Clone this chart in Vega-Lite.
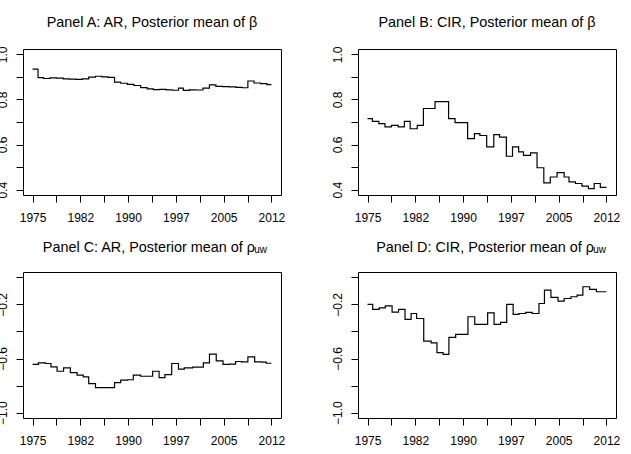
{
  "$schema": "https://vega.github.io/schema/vega-lite/v6.json",
  "background": "white",
  "padding": {"left": -5, "top": 14, "right": 0, "bottom": 0},
  "columns": 2,
  "spacing": {"row": 77, "column": 77},
  "bounds": "flush",
  "config": {
    "font": "Liberation Sans",
    "view": {"stroke": "black", "strokeWidth": 1},
    "axis": {"grid": false, "domain": false, "tickColor": "black", "tickSize": 7, "tickWidth": 1, "labelColor": "black", "labelFontSize": 12, "labelFont": "Liberation Sans", "title": null, "labelOverlap": false, "labelFlush": false},
    "title": {"font": "Liberation Sans", "fontSize": 14.4, "fontWeight": "normal", "color": "black", "baseline": "alphabetic", "frame": "group", "offset": 16, "subtitleFont": "Liberation Sans", "subtitleFontSize": 10, "subtitleColor": "black"}
  },
  "datasets": {
    "A": [
      {"year": 1975.0, "value": 0.935}, {"year": 1975.85, "value": 0.897}, {"year": 1976.7, "value": 0.893}, {"year": 1977.7, "value": 0.896},
      {"year": 1978.7, "value": 0.895}, {"year": 1979.75, "value": 0.891}, {"year": 1980.7, "value": 0.890}, {"year": 1981.7, "value": 0.889},
      {"year": 1982.7, "value": 0.891}, {"year": 1983.7, "value": 0.899}, {"year": 1984.75, "value": 0.903}, {"year": 1985.75, "value": 0.900},
      {"year": 1986.7, "value": 0.898}, {"year": 1987.7, "value": 0.877}, {"year": 1988.65, "value": 0.872}, {"year": 1989.7, "value": 0.867},
      {"year": 1990.7, "value": 0.862}, {"year": 1991.75, "value": 0.853}, {"year": 1992.75, "value": 0.847}, {"year": 1993.7, "value": 0.844},
      {"year": 1994.7, "value": 0.845}, {"year": 1995.7, "value": 0.843}, {"year": 1996.7, "value": 0.841}, {"year": 1997.6, "value": 0.850},
      {"year": 1998.35, "value": 0.840}, {"year": 1999.3, "value": 0.843}, {"year": 2000.3, "value": 0.842}, {"year": 2001.4, "value": 0.850},
      {"year": 2002.4, "value": 0.865}, {"year": 2003.4, "value": 0.858}, {"year": 2004.4, "value": 0.857}, {"year": 2005.45, "value": 0.856},
      {"year": 2006.5, "value": 0.854}, {"year": 2007.5, "value": 0.852}, {"year": 2008.35, "value": 0.882}, {"year": 2009.3, "value": 0.873},
      {"year": 2010.3, "value": 0.870}, {"year": 2011.3, "value": 0.866}, {"year": 2012.0, "value": 0.866}
    ],
    "B": [
      {"year": 1975.0, "value": 0.715}, {"year": 1975.75, "value": 0.703}, {"year": 1976.75, "value": 0.693}, {"year": 1977.7, "value": 0.678},
      {"year": 1978.7, "value": 0.685}, {"year": 1979.75, "value": 0.678}, {"year": 1980.7, "value": 0.703}, {"year": 1981.6, "value": 0.670},
      {"year": 1982.7, "value": 0.685}, {"year": 1983.65, "value": 0.760}, {"year": 1985.45, "value": 0.790}, {"year": 1987.55, "value": 0.715},
      {"year": 1988.55, "value": 0.697}, {"year": 1990.5, "value": 0.626}, {"year": 1991.55, "value": 0.648}, {"year": 1992.4, "value": 0.640},
      {"year": 1993.45, "value": 0.590}, {"year": 1994.55, "value": 0.644}, {"year": 1995.45, "value": 0.633}, {"year": 1996.5, "value": 0.548},
      {"year": 1997.45, "value": 0.590}, {"year": 1998.4, "value": 0.567}, {"year": 1999.15, "value": 0.552}, {"year": 2000.25, "value": 0.563},
      {"year": 2001.25, "value": 0.497}, {"year": 2002.3, "value": 0.430}, {"year": 2003.3, "value": 0.456}, {"year": 2004.35, "value": 0.475},
      {"year": 2005.45, "value": 0.456}, {"year": 2006.2, "value": 0.434}, {"year": 2007.2, "value": 0.427}, {"year": 2008.2, "value": 0.415},
      {"year": 2009.2, "value": 0.404}, {"year": 2010.1, "value": 0.427}, {"year": 2011.05, "value": 0.410}, {"year": 2012.0, "value": 0.410}
    ],
    "C": [
      {"year": 1975.0, "value": -0.644}, {"year": 1975.9, "value": -0.632}, {"year": 1977.0, "value": -0.637}, {"year": 1977.85, "value": -0.662},
      {"year": 1978.8, "value": -0.694}, {"year": 1979.8, "value": -0.669}, {"year": 1980.85, "value": -0.704}, {"year": 1981.9, "value": -0.723},
      {"year": 1982.85, "value": -0.736}, {"year": 1983.7, "value": -0.785}, {"year": 1984.75, "value": -0.815}, {"year": 1987.7, "value": -0.778},
      {"year": 1988.65, "value": -0.760}, {"year": 1989.7, "value": -0.757}, {"year": 1990.6, "value": -0.723}, {"year": 1991.75, "value": -0.731},
      {"year": 1993.6, "value": -0.694}, {"year": 1994.6, "value": -0.741}, {"year": 1995.5, "value": -0.719}, {"year": 1996.55, "value": -0.637},
      {"year": 1997.6, "value": -0.679}, {"year": 1998.5, "value": -0.669}, {"year": 1999.8, "value": -0.664}, {"year": 2001.45, "value": -0.632},
      {"year": 2002.4, "value": -0.568}, {"year": 2003.45, "value": -0.617}, {"year": 2004.5, "value": -0.644}, {"year": 2005.5, "value": -0.642},
      {"year": 2006.45, "value": -0.622}, {"year": 2007.35, "value": -0.625}, {"year": 2008.35, "value": -0.588}, {"year": 2009.4, "value": -0.625},
      {"year": 2010.45, "value": -0.627}, {"year": 2011.2, "value": -0.635}, {"year": 2012.0, "value": -0.635}
    ],
    "D": [
      {"year": 1975.0, "value": -0.200}, {"year": 1975.8, "value": -0.237}, {"year": 1976.8, "value": -0.225}, {"year": 1977.75, "value": -0.210},
      {"year": 1978.8, "value": -0.257}, {"year": 1979.8, "value": -0.237}, {"year": 1980.8, "value": -0.311}, {"year": 1981.75, "value": -0.267},
      {"year": 1982.6, "value": -0.304}, {"year": 1983.7, "value": -0.472}, {"year": 1984.85, "value": -0.484}, {"year": 1985.75, "value": -0.556},
      {"year": 1986.7, "value": -0.570}, {"year": 1987.6, "value": -0.444}, {"year": 1988.65, "value": -0.422}, {"year": 1990.55, "value": -0.291},
      {"year": 1991.6, "value": -0.348}, {"year": 1993.6, "value": -0.262}, {"year": 1994.6, "value": -0.348}, {"year": 1995.6, "value": -0.333},
      {"year": 1996.55, "value": -0.200}, {"year": 1997.55, "value": -0.274}, {"year": 1998.45, "value": -0.267}, {"year": 1999.5, "value": -0.259},
      {"year": 2000.5, "value": -0.267}, {"year": 2001.55, "value": -0.193}, {"year": 2002.4, "value": -0.094}, {"year": 2003.4, "value": -0.148},
      {"year": 2004.5, "value": -0.175}, {"year": 2005.45, "value": -0.156}, {"year": 2006.5, "value": -0.143}, {"year": 2007.45, "value": -0.131},
      {"year": 2008.35, "value": -0.069}, {"year": 2009.4, "value": -0.089}, {"year": 2010.45, "value": -0.106}, {"year": 2012.0, "value": -0.106}
    ]
  },
  "concat": [
    {
      "width": 258, "height": 146,
      "title": {"text": "Panel A: AR, Posterior mean of β", "anchor": "middle"},
      "data": {"name": "A"},
      "mark": {"type": "line", "interpolate": "step-after", "color": "black", "strokeWidth": 1.2},
      "encoding": {
        "x": {"field": "year", "type": "quantitative", "scale": {"domain": [1973.52, 2013.48], "nice": false, "zero": false},
              "axis": {"values": [1975, 1978.7, 1982.4, 1986.1, 1989.8, 1993.5, 1997.2, 2000.9, 2004.6, 2008.3, 2012], "labelExpr": "round((datum.value - 1975) / 3.7) % 2 == 0 ? toString(round(datum.value)) : ''", "labelPadding": 10.5}},
        "y": {"field": "value", "type": "quantitative", "scale": {"domain": [0.376, 1.024], "nice": false, "zero": false},
              "axis": {"values": [0.4, 0.5, 0.6, 0.7, 0.8, 0.9, 1.0], "labelExpr": "round(datum.value * 10) % 2 == 0 ? format(datum.value, '.1f') : ''", "labelAngle": -90, "labelAlign": "center", "labelBaseline": "alphabetic", "labelPadding": 9.7}}
      }
    },
    {
      "width": 258, "height": 146,
      "title": {"text": "Panel B: CIR, Posterior mean of β", "anchor": "middle"},
      "data": {"name": "B"},
      "mark": {"type": "line", "interpolate": "step-after", "color": "black", "strokeWidth": 1.2},
      "encoding": {
        "x": {"field": "year", "type": "quantitative", "scale": {"domain": [1973.52, 2013.48], "nice": false, "zero": false},
              "axis": {"values": [1975, 1978.7, 1982.4, 1986.1, 1989.8, 1993.5, 1997.2, 2000.9, 2004.6, 2008.3, 2012], "labelExpr": "round((datum.value - 1975) / 3.7) % 2 == 0 ? toString(round(datum.value)) : ''", "labelPadding": 10.5}},
        "y": {"field": "value", "type": "quantitative", "scale": {"domain": [0.376, 1.024], "nice": false, "zero": false},
              "axis": {"values": [0.4, 0.5, 0.6, 0.7, 0.8, 0.9, 1.0], "labelExpr": "round(datum.value * 10) % 2 == 0 ? format(datum.value, '.1f') : ''", "labelAngle": -90, "labelAlign": "center", "labelBaseline": "alphabetic", "labelPadding": 9.7}}
      }
    },
    {
      "width": 258, "height": 146,
      "title": {"text": "Panel C: AR, Posterior mean of ρ\u00a0\u00a0\u00a0\u200b", "subtitle": "uw", "subtitlePadding": -10, "anchor": "end", "dx": -14},
      "data": {"name": "C"},
      "mark": {"type": "line", "interpolate": "step-after", "color": "black", "strokeWidth": 1.2},
      "encoding": {
        "x": {"field": "year", "type": "quantitative", "scale": {"domain": [1973.52, 2013.48], "nice": false, "zero": false},
              "axis": {"values": [1975, 1978.7, 1982.4, 1986.1, 1989.8, 1993.5, 1997.2, 2000.9, 2004.6, 2008.3, 2012], "labelExpr": "round((datum.value - 1975) / 3.7) % 2 == 0 ? toString(round(datum.value)) : ''", "labelPadding": 10.5}},
        "y": {"field": "value", "type": "quantitative", "scale": {"domain": [-1.04, 0.04], "nice": false, "zero": false},
              "axis": {"values": [-1.0, -0.8, -0.6, -0.4, -0.2, 0.0], "labelExpr": "abs(round(datum.value * 10)) % 4 == 2 ? format(datum.value, '.1f') : ''", "labelAngle": -90, "labelAlign": "center", "labelBaseline": "alphabetic", "labelPadding": 9.7}}
      }
    },
    {
      "width": 258, "height": 146,
      "title": {"text": "Panel D: CIR, Posterior mean of ρ\u00a0\u00a0\u00a0\u200b", "subtitle": "uw", "subtitlePadding": -10, "anchor": "end", "dx": -10},
      "data": {"name": "D"},
      "mark": {"type": "line", "interpolate": "step-after", "color": "black", "strokeWidth": 1.2},
      "encoding": {
        "x": {"field": "year", "type": "quantitative", "scale": {"domain": [1973.52, 2013.48], "nice": false, "zero": false},
              "axis": {"values": [1975, 1978.7, 1982.4, 1986.1, 1989.8, 1993.5, 1997.2, 2000.9, 2004.6, 2008.3, 2012], "labelExpr": "round((datum.value - 1975) / 3.7) % 2 == 0 ? toString(round(datum.value)) : ''", "labelPadding": 10.5}},
        "y": {"field": "value", "type": "quantitative", "scale": {"domain": [-1.04, 0.04], "nice": false, "zero": false},
              "axis": {"values": [-1.0, -0.8, -0.6, -0.4, -0.2, 0.0], "labelExpr": "abs(round(datum.value * 10)) % 4 == 2 ? format(datum.value, '.1f') : ''", "labelAngle": -90, "labelAlign": "center", "labelBaseline": "alphabetic", "labelPadding": 9.7}}
      }
    }
  ]
}
